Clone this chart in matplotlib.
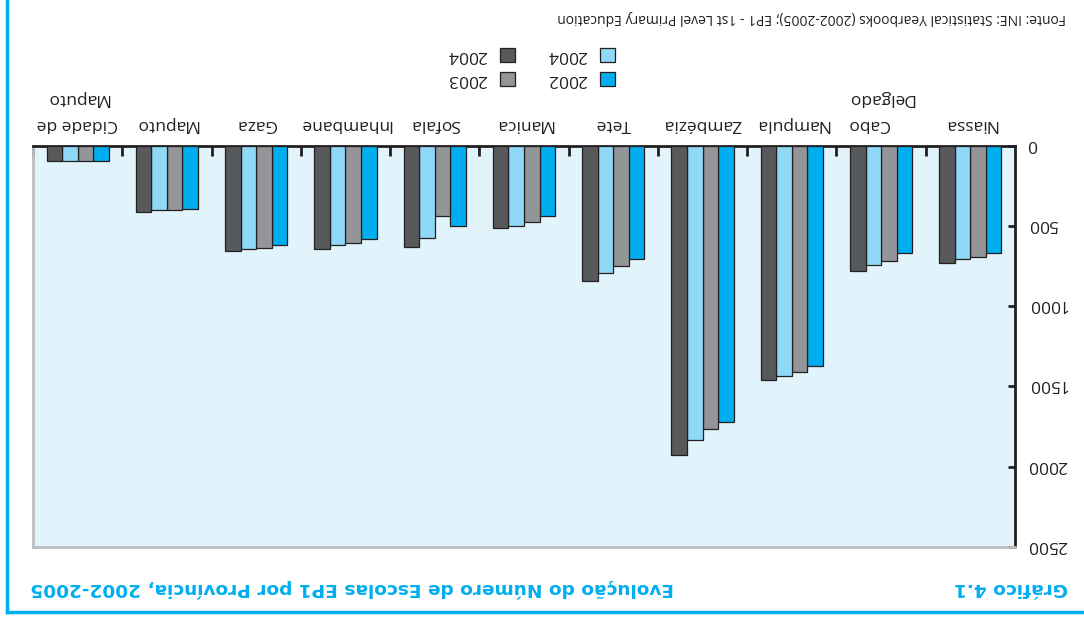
import numpy as np
import matplotlib
matplotlib.use('Agg')
import matplotlib.pyplot as plt
from matplotlib.patches import Rectangle
from matplotlib.lines import Line2D
from matplotlib.transforms import offset_copy

plt.rcParams['font.family'] = ['Open Sans', 'DejaVu Sans']

# numero de escolas EP1 por provincia
provincias = ['Niassa', 'Cabo\nDelgado', 'Nampula', 'Zambézia', 'Tete', 'Manica',
              'Sofala', 'Inhambane', 'Gaza', 'Maputo', 'Cidade de\nMaputo']
escolas_2002 = [670, 668, 1373, 1724, 706, 440, 502, 579, 620, 396, 92]
escolas_2003 = [691, 716, 1408, 1766, 747, 473, 440, 604, 635, 402, 93]
escolas_2004 = [706, 745, 1437, 1834, 795, 498, 577, 620, 645, 400, 93]
escolas_2005 = [729, 783, 1460, 1930, 845, 510, 629, 645, 656, 411, 94]
legenda = ['2002', '2003', '2004', '2004']
cores = ['#00aeef', '#939598', '#8fd8f6', '#58595b']
y_ticks = [0, 500, 1000, 1500, 2000, 2500]

titulo_num = 'Gráfico 4.1'
titulo = 'Evolução do Número de Escolas EP1 por Província, 2002-2005'
fonte = 'Fonte: INE: Statistical Yearbooks (2002-2005); EP1 - 1st Level Primary Education'

azul = '#00aeef'
preto = '#231f20'
W, H = 1084, 620

def fx(px):
    return px / W

def fy(py):
    return 1 - py / H

# a pagina toda aparece virada (180 graus)
fig = plt.figure(figsize=(W / 100, H / 100), dpi=100)
ax = fig.add_axes([fx(33), fy(546.7), fx(1015) - fx(33), fy(145.8) - fy(546.7)])
ax.set_facecolor('#e1f3fb')

x = np.arange(len(provincias))
w = 0.174
series = [escolas_2002, escolas_2003, escolas_2004, escolas_2005]
for i, (vals, cor) in enumerate(zip(series, cores)):
    ax.bar(x + (i - 1.5) * w, vals, width=w, color=cor, edgecolor=preto,
           linewidth=0.9, zorder=3)

ax.set_xlim(len(provincias) - 0.5, -0.5)
ax.set_ylim(2500, 0)

ax.yaxis.tick_right()
ax.set_yticks(y_ticks)
ax.tick_params(axis='y', direction='in', length=5, width=2, labelright=False,
               colors=preto)
# rotulos do eixo y (virados)
trans_y = offset_copy(ax.get_yaxis_transform(), fig=fig, x=12, y=2, units='dots')
for v in y_ticks:
    ax.text(1, v, str(v), transform=trans_y, rotation=180, ha='left', va='center',
            fontsize=12.5, color=preto)

ax.xaxis.tick_top()
ax.set_xticks([])
ax.set_xticks(np.arange(0.5, len(provincias), 1), minor=True)
ax.tick_params(axis='x', which='minor', direction='in', length=7, width=2, colors=preto)

for s in ['top', 'right']:
    ax.spines[s].set_color(preto)
    ax.spines[s].set_linewidth(2)
for s in ['left', 'bottom']:
    ax.spines[s].set_color('#bcbec0')
    ax.spines[s].set_linewidth(2)

# nomes das provincias por cima das barras
trans = offset_copy(ax.get_xaxis_transform(), fig=fig, x=0, y=10, units='points')
for xi, nome in zip(x, provincias):
    ma = 'center' if nome.startswith('Cidade') else 'right'
    ax.text(xi, 1, nome, transform=trans, rotation=180, ha='center', va='bottom',
            multialignment=ma, linespacing=1.8, fontsize=12.5, color=preto)

# legenda
linhas = [72, 72, 48, 48]
colunas = [600, 500, 600, 500]
for nome, cor, py, px in zip(legenda, cores, linhas, colunas):
    fig.add_artist(Rectangle((fx(px), fy(py + 13.5)), fx(15), 13.5 / H,
                             transform=fig.transFigure, facecolor=cor,
                             edgecolor=preto, linewidth=0.9))
    fig.text(fx(px - 13), fy(py + 7), nome, rotation=180, ha='right', va='center',
             fontsize=12.5, color=preto)

fig.text(fx(1066), fy(18), fonte, rotation=180, ha='right', va='center',
         fontsize=10, color=preto)

fig.text(fx(1068), fy(588), titulo_num, rotation=180, ha='right', va='center',
         fontsize=13.3, fontweight='bold', color=azul, family='DejaVu Sans')
fig.text(fx(30), fy(588), titulo, rotation=180, ha='left', va='center',
         fontsize=13.3, fontweight='bold', color=azul, family='DejaVu Sans')

# moldura azul
fig.add_artist(Line2D([fx(7), fx(7)], [fy(0), fy(612)], transform=fig.transFigure,
                      color=azul, linewidth=2.5))
fig.add_artist(Line2D([fx(7), fx(1084)], [fy(612), fy(612)], transform=fig.transFigure,
                      color=azul, linewidth=2.5))

fig.savefig('out.png', dpi=100)
